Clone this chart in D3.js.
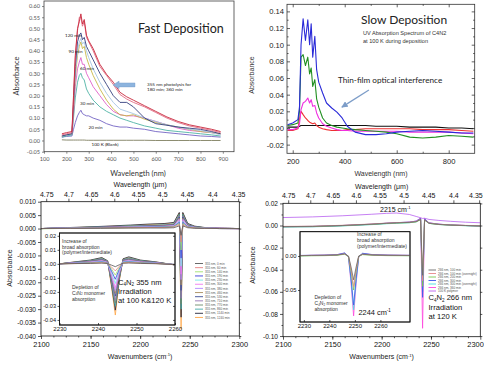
<!DOCTYPE html>
<html>
<head>
<meta charset="utf-8">
<script src="https://cdn.jsdelivr.net/npm/d3@7"></script>
<style>
body { margin: 0; background: #fff; }
svg { display: block; }
</style>
</head>
<body>
<svg id="chart" width="484" height="365"></svg>
<script>
// ---------------- data ----------------
// top left: fast deposition, absorbance vs wavelength (nm)
const fastWl = [180, 200, 225, 232, 240, 250, 258, 265, 272, 280, 290, 300, 320, 350, 380, 410, 440, 470, 500, 550, 600, 650, 700, 750, 800, 850, 890]
const fastBlank = [0.003, 0.002, 0.002, 0.002, 0.002, 0.002, 0.002, 0.002, 0.002, 0.002, 0.001, 0.001, 0.001, 0.001, 0.001, 0.001, 0.001, 0.001, 0.001, 0.001, 0.0, 0.0, 0.0, 0.0, 0.0, 0.0, 0.0]
const fast20 = [0.015, 0.018, 0.02, 0.05, 0.08, 0.11, 0.125, 0.135, 0.12, 0.115, 0.11, 0.11, 0.10, 0.09, 0.075, 0.065, 0.06, 0.06, 0.055, 0.05, 0.04, 0.035, 0.03, 0.025, 0.02, 0.018, 0.015]
const fast30 = [0.015, 0.02, 0.025, 0.10, 0.19, 0.26, 0.29, 0.30, 0.28, 0.27, 0.23, 0.21, 0.18, 0.15, 0.13, 0.115, 0.10, 0.09, 0.08, 0.065, 0.055, 0.045, 0.04, 0.035, 0.03, 0.025, 0.02]
const fast60 = [0.02, 0.025, 0.03, 0.12, 0.24, 0.32, 0.35, 0.37, 0.34, 0.34, 0.30, 0.28, 0.24, 0.20, 0.16, 0.13, 0.115, 0.11, 0.11, 0.10, 0.085, 0.07, 0.055, 0.045, 0.04, 0.035, 0.03]
const fast90 = [0.02, 0.025, 0.03, 0.14, 0.28, 0.38, 0.42, 0.44, 0.41, 0.42, 0.37, 0.34, 0.29, 0.23, 0.18, 0.14, 0.115, 0.11, 0.115, 0.095, 0.08, 0.07, 0.06, 0.05, 0.04, 0.035, 0.03]
const fast120b = [0.02, 0.025, 0.03, 0.15, 0.30, 0.40, 0.44, 0.455, 0.43, 0.44, 0.40, 0.37, 0.32, 0.26, 0.21, 0.17, 0.14, 0.13, 0.12, 0.10, 0.085, 0.07, 0.06, 0.05, 0.045, 0.035, 0.025]
const fast120 = [0.02, 0.025, 0.03, 0.16, 0.33, 0.44, 0.47, 0.48, 0.45, 0.46, 0.42, 0.40, 0.36, 0.30, 0.25, 0.20, 0.17, 0.17, 0.15, 0.10, 0.075, 0.068, 0.06, 0.055, 0.05, 0.04, 0.03]
const fast180 = [0.025, 0.03, 0.035, 0.19, 0.37, 0.49, 0.55, 0.55, 0.51, 0.53, 0.46, 0.44, 0.40, 0.33, 0.29, 0.25, 0.205, 0.185, 0.17, 0.15, 0.125, 0.10, 0.08, 0.065, 0.055, 0.045, 0.035]
const fast360 = [0.03, 0.035, 0.04, 0.20, 0.38, 0.50, 0.53, 0.565, 0.52, 0.54, 0.47, 0.445, 0.41, 0.34, 0.295, 0.26, 0.215, 0.195, 0.18, 0.155, 0.13, 0.105, 0.085, 0.07, 0.06, 0.05, 0.04]
const fastXTicks = [100, 200, 300, 400, 500, 600, 700, 800, 900]
const fastYTicks = [-0.05, 0, 0.05, 0.10, 0.15, 0.20, 0.25, 0.30, 0.35, 0.40, 0.45, 0.50, 0.55, 0.60]

// top right: slow deposition
const slowWl = [180, 200, 220, 226, 232, 240, 249, 258, 265, 271, 277, 285, 292, 300, 315, 330, 350, 370, 390, 410, 440, 480, 520, 560, 600, 650, 700, 750, 800, 850, 895]
const slowBlack = [0.001, 0.001, 0.001, 0.002, 0.003, 0.003, 0.003, 0.003, 0.003, 0.003, 0.003, 0.003, 0.003, 0.003, 0.003, 0.003, 0.003, 0.003, 0.003, 0.003, 0.003, 0.003, 0.002, 0.002, 0.002, 0.001, 0.001, 0.001, 0.0, 0.0, -0.001]
const slowRed = [-0.003, -0.003, -0.001, 0.01, 0.02, 0.016, 0.012, 0.009, 0.007, 0.006, 0.005, 0.006, 0.003, 0.001, -0.001, -0.002, -0.003, -0.003, -0.003, -0.002, -0.002, -0.001, -0.001, -0.001, -0.001, -0.001, -0.002, -0.002, -0.002, -0.003, -0.004]
const slowMagenta = [-0.002, -0.002, 0.0, 0.005, 0.022, 0.03, 0.032, 0.036, 0.03, 0.034, 0.026, 0.027, 0.018, 0.012, 0.005, 0.002, 0.0, -0.002, -0.003, -0.003, -0.004, -0.004, -0.004, -0.004, -0.004, -0.005, -0.005, -0.005, -0.005, -0.006, -0.007]
const slowGreen = [0.003, 0.004, 0.006, 0.02, 0.085, 0.088, 0.075, 0.085, 0.065, 0.072, 0.05, 0.058, 0.035, 0.025, 0.012, 0.006, 0.003, 0.001, 0.0, -0.001, -0.002, -0.003, -0.004, -0.005, -0.007, -0.011, -0.012, -0.011, -0.009, -0.010, -0.011]
const slowBlue = [0.004, 0.006, 0.01, 0.025, 0.10, 0.131, 0.105, 0.13, 0.10, 0.125, 0.085, 0.11, 0.07, 0.055, 0.042, 0.03, 0.024, 0.019, 0.012, 0.002, -0.005, -0.008, -0.008, -0.007, -0.005, -0.004, -0.003, -0.004, -0.005, -0.006, -0.006]
const slowXTicks = [200, 400, 600, 800]
const slowYTicks = [-0.02, 0, 0.02, 0.04, 0.06, 0.08, 0.10, 0.12, 0.14]

// bottom left: 355 nm irradiation, difference spectra
const irr355Labels = ['355 nm, 0 min', '355 nm, 60 min', '355 nm, 140 min', '355 nm, 190 min', '355 nm, 230 min', '355 nm, 300 min', '355 nm, 380 min', '355 nm, 460 min', '355 nm, 530 min', '355 nm, 710 min', '355 nm, 770 min', '355 nm, 860 min', '355 nm, 1140 min', '355 nm, 1240 min']
const irr355Colors = ['#585858', '#e58080', '#a0e070', '#3c3cd8', '#78e8e8', '#f078f0', '#b488ff', '#a88c5c', '#3c4c94', '#9474b4', '#6c8c6c', '#44aaaa', '#242438', '#ffa444']
const wn355 = [2100, 2130, 2160, 2190, 2210, 2225, 2234, 2239.5, 2241.3, 2243, 2248, 2255, 2265, 2280, 2300]
const irr355 = [
  [0, 0.0001, 0.0001, 0.0002, 0.0002, 0.0002, 0.0003, 0.0010, -0.0025, 0.0010, 0.0003, 0.0001, 0.0001, 0, 0],
  [0, 0.0001, 0.0002, 0.0003, 0.0004, 0.0004, 0.0006, 0.0015, -0.0050, 0.0015, 0.0005, 0.0002, 0.0001, 0, -0.0001],
  [-0.0001, 0.0001, 0.0002, 0.0003, 0.0004, 0.0005, 0.0007, 0.0019, -0.0080, 0.0019, 0.0006, 0.0003, 0.0001, 0, 0],
  [0, 0.0001, 0.0003, 0.0004, 0.0005, 0.0006, 0.0008, 0.0023, -0.0110, 0.0023, 0.0007, 0.0003, 0.0001, 0, -0.0001],
  [0, 0.0002, 0.0003, 0.0005, 0.0006, 0.0007, 0.0009, 0.0027, -0.0140, 0.0027, 0.0008, 0.0004, 0.0002, 0, 0],
  [0, 0.0002, 0.0004, 0.0005, 0.0007, 0.0008, 0.0010, 0.0031, -0.0170, 0.0031, 0.0009, 0.0004, 0.0002, 0.0001, 0],
  [0, 0.0002, 0.0004, 0.0006, 0.0007, 0.0009, 0.0011, 0.0035, -0.0190, 0.0035, 0.0010, 0.0005, 0.0002, 0.0001, 0],
  [0, 0.0002, 0.0004, 0.0007, 0.0008, 0.0010, 0.0013, 0.0039, -0.0210, 0.0039, 0.0011, 0.0005, 0.0002, 0.0001, 0],
  [0, 0.0003, 0.0005, 0.0007, 0.0009, 0.0011, 0.0014, 0.0043, -0.0230, 0.0043, 0.0012, 0.0006, 0.0003, 0.0001, 0],
  [0, 0.0003, 0.0005, 0.0008, 0.0010, 0.0012, 0.0015, 0.0047, -0.0260, 0.0047, 0.0013, 0.0006, 0.0003, 0.0001, 0],
  [0, 0.0003, 0.0006, 0.0009, 0.0011, 0.0013, 0.0016, 0.0050, -0.0280, 0.0050, 0.0014, 0.0007, 0.0003, 0.0001, 0],
  [0, 0.0003, 0.0006, 0.0010, 0.0012, 0.0014, 0.0018, 0.0053, -0.0300, 0.0053, 0.0015, 0.0007, 0.0003, 0.0001, 0],
  [0, 0.0004, 0.0008, 0.0013, 0.0017, 0.0019, 0.0023, 0.0060, -0.0330, 0.0060, 0.0019, 0.0009, 0.0004, 0.0001, 0],
  [0, 0.0003, 0.0007, 0.0011, 0.0015, 0.0017, 0.0021, 0.0058, -0.0375, 0.0058, 0.0017, 0.0008, 0.0003, 0.0001, 0]
]
const wnIn355 = [2230, 2234, 2238, 2241, 2242.5, 2243.5, 2244.5, 2245.5, 2246.5, 2248, 2251, 2255, 2260]
const irr355In = [
  [0, 0.0002, 0.0003, 0.0005, 0.0002, -0.0009, -0.0020, -0.0007, 0.0004, 0.0006, 0.0003, 0.0001, -0.0005],
  [0, 0.0002, 0.0005, 0.0008, 0.0004, -0.0022, -0.0050, -0.0018, 0.0006, 0.0009, 0.0005, 0.0002, -0.0005],
  [0, 0.0003, 0.0007, 0.0011, 0.0005, -0.0036, -0.0080, -0.0028, 0.0009, 0.0012, 0.0007, 0.0003, -0.0005],
  [0, 0.0004, 0.0008, 0.0014, 0.0007, -0.0050, -0.0110, -0.0038, 0.0011, 0.0015, 0.0008, 0.0004, -0.0005],
  [0, 0.0005, 0.0010, 0.0017, 0.0008, -0.0063, -0.0140, -0.0049, 0.0014, 0.0019, 0.0010, 0.0005, -0.0005],
  [0, 0.0006, 0.0012, 0.0020, 0.0010, -0.0077, -0.0170, -0.0060, 0.0016, 0.0022, 0.0012, 0.0006, -0.0005],
  [0, 0.0007, 0.0014, 0.0023, 0.0011, -0.0086, -0.0190, -0.0066, 0.0018, 0.0025, 0.0014, 0.0007, -0.0006],
  [0, 0.0008, 0.0016, 0.0026, 0.0013, -0.0095, -0.0210, -0.0074, 0.0021, 0.0029, 0.0016, 0.0008, -0.0006],
  [0, 0.0009, 0.0017, 0.0029, 0.0014, -0.0104, -0.0230, -0.0080, 0.0023, 0.0032, 0.0017, 0.0009, -0.0006],
  [0, 0.0010, 0.0019, 0.0032, 0.0016, -0.0117, -0.0260, -0.0091, 0.0026, 0.0035, 0.0019, 0.0010, -0.0007],
  [0, 0.0011, 0.0021, 0.0035, 0.0017, -0.0126, -0.0280, -0.0098, 0.0028, 0.0039, 0.0021, 0.0011, -0.0007],
  [0, 0.0011, 0.0023, 0.0038, 0.0019, -0.0135, -0.0300, -0.0105, 0.0030, 0.0042, 0.0023, 0.0011, -0.0007],
  [0, 0.0014, 0.0027, 0.0045, 0.0022, -0.0149, -0.0330, -0.0116, 0.0036, 0.0050, 0.0027, 0.0014, -0.0008],
  [0, 0.0013, 0.0025, 0.0042, 0.0021, -0.0164, -0.0365, -0.0128, 0.0034, 0.0046, 0.0025, 0.0013, -0.0008]
]
const yTicks355 = [-0.040, -0.035, -0.030, -0.025, -0.020, -0.015, -0.010, -0.005, 0.000, 0.005, 0.010]
const yTicks355In = [-0.04, -0.03, -0.02, -0.01, 0.00, 0.01, 0.02]

// bottom right: 266 nm irradiation
const irr266Labels = ['266 nm, 100 min', '266 nm, 100 min (overnight)', '266 nm, 200 min', '266 nm, 300 min', '266 nm, 300 min (overnight)', '266 nm, 360 min', '100 K polymer']
const irr266Colors = ['#6a6a6a', '#e88888', '#78c850', '#3a58e8', '#48e0e0', '#ff44dd', '#b860f0']
const wn266 = [2100, 2130, 2160, 2190, 2205, 2215, 2228, 2235, 2239.5, 2241.5, 2243.5, 2248, 2258, 2270, 2285, 2300]
const irr266 = [
  [-0.0010, -0.0008, 0.0000, 0.0012, 0.0020, 0.0024, 0.0028, 0.0035, 0.0055, -0.0450, 0.0050, 0.0020, 0.0010, 0.0004, 0.0000, -0.0004],
  [-0.0008, -0.0006, 0.0002, 0.0014, 0.0022, 0.0026, 0.0030, 0.0037, 0.0058, -0.0500, 0.0052, 0.0022, 0.0011, 0.0005, 0.0001, -0.0003],
  [-0.0012, -0.0010, -0.0002, 0.0010, 0.0018, 0.0022, 0.0026, 0.0033, 0.0052, -0.0550, 0.0048, 0.0019, 0.0009, 0.0003, -0.0001, -0.0005],
  [-0.0010, -0.0008, 0.0000, 0.0012, 0.0021, 0.0026, 0.0031, 0.0040, 0.0065, -0.0650, 0.0060, 0.0024, 0.0012, 0.0005, 0.0000, -0.0004],
  [-0.0014, -0.0012, -0.0004, 0.0008, 0.0016, 0.0020, 0.0025, 0.0033, 0.0058, -0.0600, 0.0054, 0.0020, 0.0009, 0.0003, -0.0002, -0.0006],
  [-0.0012, -0.0010, -0.0001, 0.0011, 0.0020, 0.0025, 0.0030, 0.0040, 0.0068, -0.0930, 0.0062, 0.0024, 0.0012, 0.0005, 0.0000, -0.0005],
  [0.0072, 0.0078, 0.0088, 0.0102, 0.0110, 0.0113, 0.0100, 0.0082, 0.0070, 0.0064, 0.0066, 0.0055, 0.0046, 0.0038, 0.0030, 0.0025]
]
const wnIn266 = [2228.5, 2233, 2238, 2243, 2246, 2247.5, 2248.5, 2249.5, 2250.5, 2251.5, 2253, 2257, 2263, 2271.5]
const irr266In = [
  [0.0005, 0.0008, 0.0010, 0.0015, 0.0030, 0.0000, -0.0160, -0.0350, -0.0160, 0.0000, 0.0025, 0.0015, 0.0010, 0.0008],
  [0.0006, 0.0009, 0.0011, 0.0016, 0.0032, -0.0005, -0.0200, -0.0450, -0.0200, -0.0005, 0.0026, 0.0016, 0.0011, 0.0008],
  [0.0000, 0.0003, 0.0005, 0.0010, 0.0026, -0.0008, -0.0230, -0.0500, -0.0230, -0.0008, 0.0020, 0.0010, 0.0005, 0.0003],
  [0.0008, 0.0011, 0.0013, 0.0020, 0.0045, -0.0010, -0.0330, -0.0720, -0.0330, -0.0010, 0.0040, 0.0020, 0.0013, 0.0010],
  [0.0004, 0.0007, 0.0009, 0.0015, 0.0038, -0.0015, -0.0360, -0.0790, -0.0360, -0.0015, 0.0033, 0.0016, 0.0009, 0.0006],
  [0.0006, 0.0009, 0.0011, 0.0018, 0.0042, -0.0018, -0.0400, -0.0880, -0.0400, -0.0018, 0.0036, 0.0018, 0.0011, 0.0008]
]
const yTicks266 = [-0.10, -0.08, -0.06, -0.04, -0.02, 0.00, 0.02]
const yTicks266In = [-0.05, 0.00]

const wnTicks = [2100, 2150, 2200, 2250, 2300]
const umTicks = [4.75, 4.7, 4.65, 4.6, 4.55, 4.5, 4.45, 4.4, 4.35]
const inTicks = [2230, 2240, 2250, 2260]

// ---------------- drawing ----------------
const svg = d3.select('#chart')
const ARIAL = '"Liberation Sans", Arial, sans-serif'
const LATO = 'Lato, "Open Sans", sans-serif'
const intFmt = d3.format('d')
let clipId = 0

function clipFor (x, y) {
  const id = 'clip' + (clipId++)
  svg.append('clipPath').attr('id', id).append('rect')
    .attr('x', x.range()[0]).attr('y', y.range()[1])
    .attr('width', x.range()[1] - x.range()[0])
    .attr('height', y.range()[0] - y.range()[1])
  return 'url(#' + id + ')'
}

function drawLines (g, xs, x, y, series, colors, width) {
  const line = d3.line().x((d, j) => x(xs[j])).y(d => y(d))
  series.forEach((s, i) => {
    g.append('path').attr('d', line(s))
      .attr('fill', 'none').attr('stroke', colors[i])
      .attr('stroke-width', width).attr('stroke-linejoin', 'round')
  })
}

function axisG (ax, tx, ty, size, family, color) {
  const g = svg.append('g').attr('transform', 'translate(' + tx + ',' + ty + ')').call(ax)
  g.attr('font-size', size).attr('font-family', family)
  g.select('.domain').remove()
  g.selectAll('line').attr('stroke', color).attr('stroke-width', 0.7)
  g.selectAll('text').attr('fill', color)
  return g
}

function box (x, y, color, fill) {
  svg.append('rect')
    .attr('x', x.range()[0]).attr('y', y.range()[1])
    .attr('width', x.range()[1] - x.range()[0])
    .attr('height', y.range()[0] - y.range()[1])
    .attr('fill', fill || 'none').attr('stroke', color).attr('stroke-width', 0.8)
}

function label (x, y, txt, size, family, opts) {
  opts = opts || {}
  const t = svg.append('text').attr('x', x).attr('y', y)
    .attr('font-size', size).attr('font-family', family)
    .attr('fill', opts.color || '#222')
    .attr('text-anchor', opts.anchor || 'start')
    .text(txt)
  if (opts.rotate) t.attr('transform', 'rotate(-90,' + x + ',' + y + ')')
  return t
}

// rich text: parts are [string, kind] with kind 0 normal, 1 subscript, 2 superscript
function rich (x, y, parts, size, family, opts) {
  opts = opts || {}
  const t = svg.append('text').attr('x', x).attr('y', y)
    .attr('font-size', size).attr('font-family', family)
    .attr('fill', opts.color || '#222').attr('text-anchor', opts.anchor || 'start')
  let shift = 0
  parts.forEach(p => {
    const target = p[1] === 1 ? size * 0.18 : p[1] === 2 ? -size * 0.38 : 0
    t.append('tspan').attr('dy', target - shift)
      .attr('font-size', p[1] ? size * 0.6 : size).text(p[0])
    shift = target
  })
  return t
}

// ===== Panel 1: fast deposition =====
const x1 = d3.scaleLinear().domain([100, 950]).range([44, 234])
const y1 = d3.scaleLinear().domain([-0.05, 0.6225]).range([151.7, 1])
const g1 = svg.append('g').attr('clip-path', clipFor(x1, y1))
drawLines(g1, fastWl, x1, y1,
  [fastBlank, fast20, fast30, fast60, fast90, fast120b, fast120, fast180, fast360],
  ['#7f7f60', '#7464c4', '#4fb3a5', '#e060c8', '#c8b848', '#a4c4e2', '#34407e', '#e26a82', '#c8283c'], 0.9)
box(x1, y1, '#404040')
axisG(d3.axisLeft(y1).tickValues(fastYTicks).tickSize(2).tickPadding(2).tickFormat(d => d.toFixed(2)), 44, 0, 5.6, LATO, '#555')
axisG(d3.axisBottom(x1).tickValues(fastXTicks).tickSize(2).tickPadding(3), 0, 151.7, 5.6, LATO, '#555')
label(19, 76, 'Absorbance', 7.5, LATO, { anchor: 'middle', rotate: true, color: '#333' })
label(138, 175.5, 'Wavelength (nm)', 7.5, LATO, { anchor: 'middle', color: '#333' })
label(138, 33, 'Fast Deposition', 12.5, LATO, { color: '#222' })
label(65, 36.5, '120 min', 4.6, LATO)
label(68.5, 52.5, '90 min', 4.6, LATO)
label(80, 69.5, '60 min', 4.6, LATO)
label(80, 104.5, '30 min', 4.6, LATO)
label(88.5, 128.5, '20 min', 4.6, LATO)
label(91.5, 145.5, '100 K (Blank)', 4.6, LATO)
label(147, 85.5, '355 nm photolysis for', 4.6, LATO)
label(147, 91, '180 min; 360 min', 4.6, LATO)
// block arrow pointing left
{
  const ay = y1(0.248)
  const xa = x1(507)
  const xb = x1(409)
  const pts = [[xa, ay - 2], [xb + 6, ay - 2], [xb + 6, ay - 3.8], [xb, ay], [xb + 6, ay + 3.8], [xb + 6, ay + 2], [xa, ay + 2]]
  svg.append('path').attr('d', 'M' + pts.join('L') + 'Z').attr('fill', '#8db4de').attr('stroke', '#6f98c8').attr('stroke-width', 0.4)
}

// ===== Panel 2: slow deposition =====
const x2 = d3.scaleLinear().domain([178, 900]).range([287, 474.7])
const y2 = d3.scaleLinear().domain([-0.0304, 0.1485]).range([153.3, 4.3])
const g2 = svg.append('g').attr('clip-path', clipFor(x2, y2))
drawLines(g2, slowWl, x2, y2, [slowBlack, slowRed, slowMagenta, slowGreen, slowBlue],
  ['#111111', '#ee3030', '#f030e0', '#229022', '#2a2ad8'], 1.1)
box(x2, y2, '#333')
const minor2x = [300, 500, 700]
const minor2y = [-0.01, 0.01, 0.03, 0.05, 0.07, 0.09, 0.11, 0.13]
axisG(d3.axisLeft(y2).tickValues(slowYTicks).tickSize(-3).tickPadding(3).tickFormat(d => d.toFixed(2)), 287, 0, 7.6, ARIAL, '#222')
axisG(d3.axisLeft(y2).tickValues(minor2y).tickSize(-1.6).tickFormat(''), 287, 0, 7, ARIAL, '#222')
axisG(d3.axisRight(y2).tickValues(slowYTicks).tickSize(-3).tickFormat(''), 474.7, 0, 7, ARIAL, '#222')
axisG(d3.axisRight(y2).tickValues(minor2y).tickSize(-1.6).tickFormat(''), 474.7, 0, 7, ARIAL, '#222')
axisG(d3.axisBottom(x2).tickValues(slowXTicks).tickSize(-3).tickPadding(5), 0, 153.3, 7.6, ARIAL, '#222')
axisG(d3.axisBottom(x2).tickValues(minor2x).tickSize(-1.6).tickFormat(''), 0, 153.3, 7, ARIAL, '#222')
axisG(d3.axisTop(x2).tickValues(slowXTicks).tickSize(-3).tickFormat(''), 0, 4.3, 7, ARIAL, '#222')
axisG(d3.axisTop(x2).tickValues(minor2x).tickSize(-1.6).tickFormat(''), 0, 4.3, 7, ARIAL, '#222')
label(254, 75, 'Absorbance', 7, ARIAL, { anchor: 'middle', rotate: true, color: '#333' })
label(381, 176, 'Wavelength (nm)', 7, ARIAL, { anchor: 'middle', color: '#333' })
label(361, 23.5, 'Slow Deposition', 12, LATO, { color: '#222' })
label(363, 34.5, 'UV Absorption Spectrum of C4N2', 5.6, ARIAL, { color: '#333' })
label(363, 42.5, 'at 100 K during deposition', 5.6, ARIAL, { color: '#333' })
label(338, 83, 'Thin-film optical interference', 8.2, LATO, { color: '#222' })
{
  svg.append('defs').append('marker').attr('id', 'ah').attr('viewBox', '0 0 10 10')
    .attr('refX', 9).attr('refY', 5).attr('markerWidth', 5).attr('markerHeight', 5)
    .attr('orient', 'auto').append('path').attr('d', 'M0,0L10,5L0,10Z').attr('fill', '#7d9dc8')
  svg.append('line').attr('x1', x2(493)).attr('y1', y2(0.0456)).attr('x2', x2(389)).attr('y2', y2(0.025))
    .attr('stroke', '#7d9dc8').attr('stroke-width', 1.3).attr('marker-end', 'url(#ah)')
}

// shared IR axis drawer (bottom wavenumber, top wavelength)
function irAxes (x, y, yTicks, yFmt, yMinor) {
  const top = y.range()[1]
  const bot = y.range()[0]
  const left = x.range()[0]
  const right = x.range()[1]
  box(x, y, '#111')
  axisG(d3.axisLeft(y).tickValues(yTicks).tickSize(3).tickPadding(2).tickFormat(yFmt), left, 0, 6.6, ARIAL, '#111')
  axisG(d3.axisLeft(y).tickValues(yMinor).tickSize(1.5).tickFormat(''), left, 0, 6, ARIAL, '#111')
  axisG(d3.axisLeft(y).tickValues(yTicks).tickSize(-2).tickFormat(''), right, 0, 6, ARIAL, '#111')
  const gb = axisG(d3.axisBottom(x).tickValues(wnTicks).tickSize(3).tickPadding(2.5).tickFormat(intFmt), 0, bot, 7.4, ARIAL, '#111')
  axisG(d3.axisBottom(x).tickValues(d3.range(2112.5, 2300, 12.5)).tickSize(1.5).tickFormat(''), 0, bot, 6, ARIAL, '#111')
  const gt = axisG(d3.axisTop(x).tickValues(umTicks.map(u => 1e4 / u)).tickSize(3).tickPadding(2)
    .tickFormat((d, i) => String(umTicks[i])), 0, top, 7, ARIAL, '#111')
  if (right > 470) {
    gb.selectAll('text').filter((d, i, n) => i === n.length - 1).attr('text-anchor', 'end').attr('dx', 3)
    gt.selectAll('text').filter((d, i, n) => i === n.length - 1).attr('text-anchor', 'end').attr('dx', 3)
  }
  const cx = (left + right) / 2
  rich(cx, bot + 22.5, [['Wavenumbers (cm', 0], ['-1', 2], [')', 0]], 7, ARIAL, { anchor: 'middle', color: '#222' })
  rich(cx, top - 14.5, [['Wavelength (', 0], ['\u03bc', 0], ['m)', 0]], 7, ARIAL, { anchor: 'middle', color: '#222' })
}

// ===== Panel 3: 355 nm =====
const x3 = d3.scaleLinear().domain([2100, 2300]).range([41, 239.3])
const y3 = d3.scaleLinear().domain([-0.04, 0.01]).range([336, 201.7])
const g3 = svg.append('g').attr('clip-path', clipFor(x3, y3))
const order355 = d3.range(irr355.length).reverse()
drawLines(g3, wn355, x3, y3, order355.map(i => irr355[i]), order355.map(i => irr355Colors[i]), 0.8)
irAxes(x3, y3, yTicks355, d => d.toFixed(3), [])
label(12, 268, 'Absorbance', 7, ARIAL, { anchor: 'middle', rotate: true, color: '#222' })
// legend
irr355Labels.forEach((t, i) => {
  const ly = 263.5 + i * 4.15
  svg.append('line').attr('x1', 195).attr('x2', 203).attr('y1', ly).attr('y2', ly)
    .attr('stroke', irr355Colors[i]).attr('stroke-width', 0.9)
  label(205, ly + 1.1, t, 3.1, ARIAL, { color: '#555' })
})
// inset
const x3i = d3.scaleLinear().domain([2230, 2260]).range([59.5, 175])
const y3i = d3.scaleLinear().domain([-0.0436, 0.022]).range([325, 233])
box(x3i, y3i, '#111', '#fff')
const g3i = svg.append('g').attr('clip-path', clipFor(x3i, y3i))
drawLines(g3i, wnIn355, x3i, y3i, order355.map(i => irr355In[i]), order355.map(i => irr355Colors[i]), 0.8)
box(x3i, y3i, '#111')
axisG(d3.axisLeft(y3i).tickValues(yTicks355In).tickSize(2).tickPadding(1.5).tickFormat(d => d.toFixed(2)), 59.5, 0, 5.6, ARIAL, '#111')
axisG(d3.axisRight(y3i).tickValues(yTicks355In).tickSize(-2).tickFormat(''), 175, 0, 5, ARIAL, '#111')
axisG(d3.axisBottom(x3i).tickValues(inTicks).tickSize(-2).tickPadding(2).tickFormat(intFmt), 0, 325, 6, ARIAL, '#111')
label(62, 243, 'Increase of', 5, ARIAL, { color: '#333' })
label(62, 248.5, 'broad absorption', 5, ARIAL, { color: '#333' })
label(62, 254, '(polymer/intermediate)', 5, ARIAL, { color: '#333' })
label(72, 288.5, 'Depletion of', 5, ARIAL, { color: '#333' })
rich(72, 294.5, [['C', 0], ['4', 1], ['N', 0], ['2', 1], [' monomer', 0]], 5, ARIAL, { color: '#333' })
label(72, 301, 'absorption', 5, ARIAL, { color: '#333' })
rich(118, 284.5, [['C', 0], ['4', 1], ['N', 0], ['2', 1], [' 355 nm', 0]], 7.6, ARIAL, { color: '#111' })
label(118, 294, 'Irradiation', 7.6, ARIAL, { color: '#111' })
label(118, 303, 'at 100 K&120 K', 7.6, ARIAL, { color: '#111' })

// ===== Panel 4: 266 nm =====
const x4 = d3.scaleLinear().domain([2100, 2300]).range([283, 480.3])
const y4 = d3.scaleLinear().domain([-0.1006, 0.0201]).range([336.7, 203.3])
const g4 = svg.append('g').attr('clip-path', clipFor(x4, y4))
const order266 = [6, 5, 4, 3, 2, 1, 0]
drawLines(g4, wn266, x4, y4, order266.map(i => irr266[i]), order266.map(i => irr266Colors[i]), 0.8)
irAxes(x4, y4, yTicks266, d => d.toFixed(2), [-0.09, -0.07, -0.05, -0.03, -0.01, 0.01])
label(255, 265, 'Absorbance', 7, ARIAL, { anchor: 'middle', rotate: true, color: '#222' })
irr266Labels.forEach((t, i) => {
  const ly = 270 + i * 3.5
  svg.append('line').attr('x1', 428.5).attr('x2', 436).attr('y1', ly).attr('y2', ly)
    .attr('stroke', irr266Colors[i]).attr('stroke-width', 0.9)
  label(438, ly + 1.1, t, 3.1, ARIAL, { color: '#555' })
})
const x4i = d3.scaleLinear().domain([2228.5, 2271.6]).range([300, 410])
const y4i = d3.scaleLinear().domain([-0.097, 0.0357]).range([322, 231.7])
box(x4i, y4i, '#111', '#fff')
const g4i = svg.append('g').attr('clip-path', clipFor(x4i, y4i))
const order266In = [5, 4, 3, 2, 1, 0]
drawLines(g4i, wnIn266, x4i, y4i, order266In.map(i => irr266In[i]), order266In.map(i => irr266Colors[i]), 0.8)
box(x4i, y4i, '#111')
axisG(d3.axisLeft(y4i).tickValues(yTicks266In).tickSize(2).tickPadding(1.5).tickFormat(d => d.toFixed(2)), 300, 0, 5.8, ARIAL, '#111')
axisG(d3.axisBottom(x4i).tickValues(inTicks).tickSize(-2).tickPadding(2).tickFormat(intFmt), 0, 322, 6, ARIAL, '#111')
rich(380, 212, [['2215 cm', 0], ['-1', 2]], 7, ARIAL, { color: '#111' })
rich(358.5, 315, [['2244 cm', 0], ['-1', 2]], 7.4, ARIAL, { color: '#111' })
label(357, 236, 'Increase of', 5, ARIAL, { color: '#333' })
label(357, 241.7, 'broad absorption', 5, ARIAL, { color: '#333' })
label(357, 247.5, '(polymer/intermediate)', 5, ARIAL, { color: '#333' })
label(314.5, 298.8, 'Depletion of', 5, ARIAL, { color: '#333' })
rich(314.5, 304.6, [['C', 0], ['4', 1], ['N', 0], ['2', 1], [' monomer', 0]], 5, ARIAL, { color: '#333' })
label(314.5, 311, 'absorption', 5, ARIAL, { color: '#333' })
rich(428.5, 300.2, [['C', 0], ['4', 1], ['N', 0], ['2', 1], [' 266 nm', 0]], 7.6, ARIAL, { color: '#111' })
label(428.5, 309.6, 'Irradiation', 7.6, ARIAL, { color: '#111' })
label(428.5, 318.5, 'at 120 K', 7.6, ARIAL, { color: '#111' })
</script>
</body>
</html>
